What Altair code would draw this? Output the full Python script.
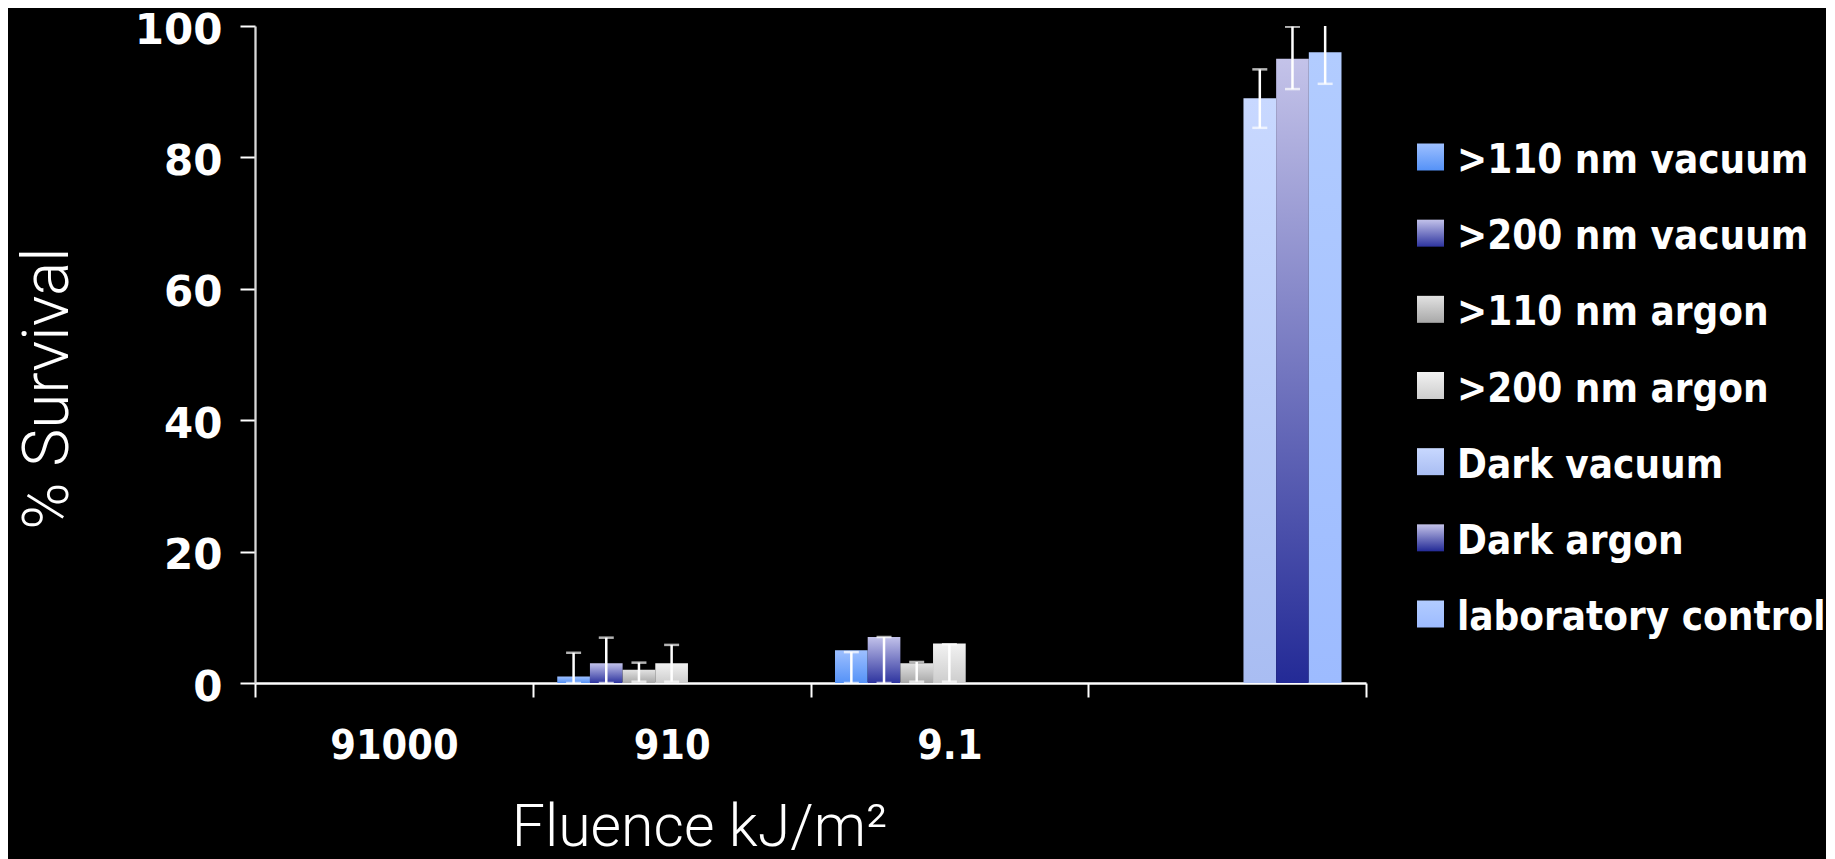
import altair as alt
import pandas as pd

# ---------------- data ----------------
categories = ["91000", "910", "9.1", ""]
series_names = [
    ">110 nm vacuum",
    "\u00a0>200 nm vacuum",
    ">110 nm argon",
    ">200 nm argon",
    "Dark vacuum",
    "Dark argon",
    "laboratory control",
]
top_colors = ["#9ec0ff", "#c2c2ea", "#e2e2e2", "#f2f2f2", "#c8d8ff", "#c4c3e9", "#b2ccff"]
bottom_colors = ["#5592f7", "#2e349f", "#a8a8a8", "#cdcdcd", "#a9bdf2", "#232a96", "#9dbbff"]

bar_category = ["910", "910", "910", "910", "9.1", "9.1", "9.1", "9.1", "", "", ""]
bar_series = [0, 1, 2, 3, 0, 1, 2, 3, 4, 5, 6]
bar_value = [1, 3, 2, 3, 5, 7, 3, 6, 89, 95, 96]
err_low = [0, 0, 0.2, 0.2, 0, 0, 0.2, 0.2, 84.5, 90.4, 91.2]
err_high = [4.6, 6.9, 3.1, 5.8, 4.7, 7.0, 3.2, 5.9, 93.4, 99.9, 100.8]

y_ticks = [0, 20, 40, 60, 80, 100]

df = pd.DataFrame({
    "fluence": bar_category,
    "series": [series_names[i] for i in bar_series],
    "value": bar_value,
    "lo": err_low,
    "hi": err_high,
})
legend_df = pd.DataFrame({"series": series_names})


def grad(i):
    return alt.LinearGradient(
        gradient="linear",
        stops=[alt.GradientStop(offset=0, color=top_colors[i]),
               alt.GradientStop(offset=1, color=bottom_colors[i])],
        x1=0, x2=0, y1=0, y2=1,
    )


x_enc = alt.X(
    "fluence:N",
    scale=alt.Scale(domain=categories, paddingInner=0, paddingOuter=0),
    title="Fluence kJ/m²",
    axis=alt.Axis(
        labelAngle=0, tickBand="extent", grid=False,
        domainColor="white", domainWidth=2.5,
        tickColor="white", tickWidth=2, tickSize=14,
        labelFont="DejaVu Sans Condensed", labelFontWeight="bold", labelFontSize=41,
        labelColor="white", labelBaseline="alphabetic", labelPadding=61,
        titleFont="Roboto", titleFontWeight=300, titleFontSize=59, titleColor="white",
        titleX=444, titleY=162, titleBaseline="alphabetic", titleAlign="center",
    ),
)
xo_enc = alt.XOffset(
    "series:N",
    scale=alt.Scale(domain=series_names, paddingInner=0, paddingOuter=0.75),
)
y_scale = alt.Scale(domain=[0, 100], nice=False)
y_axis = alt.Axis(
    values=y_ticks, grid=False,
    domainColor="#d8d8d8", domainWidth=2.3,
    tickColor="white", tickWidth=2, tickSize=15,
    labelFont="DejaVu Sans", labelFontWeight="bold", labelFontSize=42,
    labelColor="white", labelPadding=18, labelBaseline="alphabetic", labelOffset=17,
    titleFont="Roboto", titleFontWeight=300, titleFontSize=64, titleColor="white",
    titleAngle=270, titleX=-188, titleY=362, titleBaseline="alphabetic", titleAlign="center",
)

base = alt.Chart(df)

bar_layers = []
for i, s in enumerate(series_names):
    bar_layers.append(
        base.transform_filter(alt.FieldEqualPredicate(field="series", equal=s))
        .mark_bar(color=grad(i), strokeWidth=0)
        .encode(
            x=x_enc,
            xOffset=xo_enc,
            y=alt.Y("value:Q", scale=y_scale, axis=y_axis, title="% Survival"),
        )
    )

err_rule = base.mark_rule(color="white", strokeWidth=2.5, clip=True).encode(
    x=x_enc, xOffset=xo_enc,
    y=alt.Y("lo:Q", scale=y_scale), y2="hi:Q",
)
err_lo = base.mark_tick(color="white", thickness=2.5, size=15, clip=True).encode(
    x=x_enc, xOffset=xo_enc, y=alt.Y("lo:Q", scale=y_scale),
)
err_hi = base.mark_tick(color="white", thickness=2.5, size=15, clip=True).encode(
    x=x_enc, xOffset=xo_enc, y=alt.Y("hi:Q", scale=y_scale),
)

main = alt.layer(*bar_layers, err_rule, err_lo, err_hi)

leg_y = alt.Y(
    "series:N",
    scale=alt.Scale(type="point", domain=series_names, range=[131, 588], padding=0),
    axis=None,
)
leg_base = alt.Chart(legend_df)
leg_layers = []
for i, s in enumerate(series_names):
    leg_layers.append(
        leg_base.transform_filter(alt.FieldEqualPredicate(field="series", equal=s))
        .mark_square(size=729, color=grad(i), opacity=1, filled=True)
        .encode(x=alt.value(1175.5), y=leg_y)
    )
leg_text = leg_base.mark_text(
    align="left", baseline="alphabetic", dy=16,
    font="DejaVu Sans Condensed", fontWeight="bold", fontSize=40, color="white",
).encode(x=alt.value(1202), y=leg_y, text="series:N")

legend = alt.layer(*leg_layers, leg_text)

chart = (
    alt.layer(main, legend)
    .resolve_scale(y="independent")
    .properties(
        width=1111, height=657,
        background="black",
        padding={"left": 247, "top": 18, "right": 460, "bottom": 176},
        autosize=alt.AutoSizeParams(type="none"),
    )
    .configure_view(stroke=None)
)

chart.save("out.html", embed_options={"renderer": "svg", "actions": False})
